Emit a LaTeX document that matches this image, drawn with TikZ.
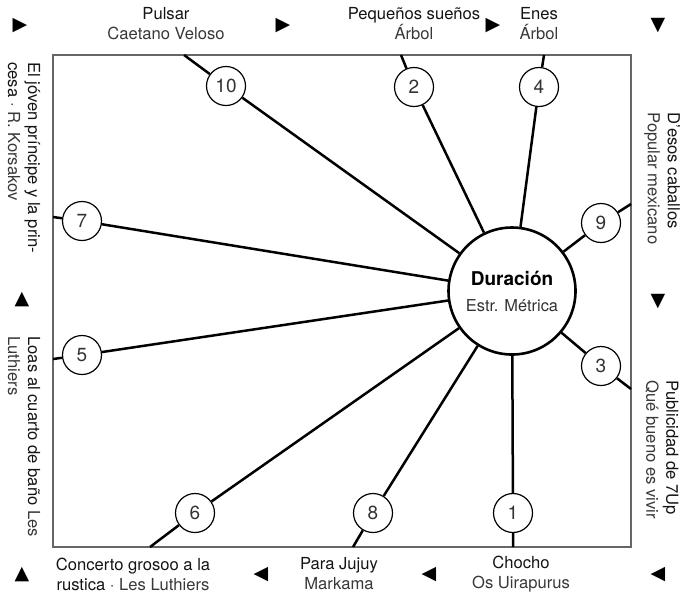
\documentclass[tikz,border=0pt]{standalone}
\usepackage{fontspec}
\setmainfont{TeX Gyre Heros}
\newfontfamily\symfont{DejaVu Sans}
\usetikzlibrary{positioning}
\tikzset{
  track/.style={draw, circle, fill=white, line width=0.6pt, minimum size=19.5pt,
    inner sep=0pt, font=\fontsize{9.5}{10}\selectfont, text=black!80},
  hub/.style={draw, circle, fill=white, line width=1.3pt, minimum size=63.5pt,
    inner sep=0pt, align=center},
  spoke/.style={line width=1.25pt},
  songtxt/.style={align=center, font=\fontsize{8.3}{10}\selectfont, text=black!92},
  sidetxt/.style={songtxt, align=left, rotate=-90, anchor=west, inner sep=0pt},
  arrowmark/.style={font=\symfont\fontsize{9.5}{9.5}\selectfont, inner sep=0pt}
}
\newcommand{\subt}[1]{{\color{black!78}#1}}

\begin{document}
\begin{tikzpicture}[x=0.5pt,y=-0.5pt]
  \useasboundingbox (0,0) rectangle (683,601);

  % marco
  \draw[black!60, line width=0.7pt] (53,55) rectangle (631,547);

  % centro
  \node[hub] (dur) at (512,291) {{\bfseries\fontsize{9.5}{12}\selectfont Duración}\\[1pt]
    {\fontsize{8.2}{10}\selectfont\color{black!80}Estr. Métrica}};

  % temas
  \node[track] (t1) at (513,513) {1};
  \node[track] (t2) at (414,87) {2};
  \node[track] (t3) at (601,366) {3};
  \node[track] (t4) at (539,87) {4};
  \node[track] (t5) at (82,355) {5};
  \node[track] (t6) at (195,513) {6};
  \node[track] (t7) at (82,221) {7};
  \node[track] (t8) at (373,513) {8};
  \node[track] (t9) at (601,223) {9};
  \node[track] (t10) at (226,86) {10};

  % salidas al marco
  \coordinate (e1) at (513,547);
  \coordinate (e2) at (401,55);
  \coordinate (e3) at (631,389);
  \coordinate (e4) at (544,55);
  \coordinate (e5) at (53,359);
  \coordinate (e6) at (150,547);
  \coordinate (e7) at (53,217);
  \coordinate (e8) at (353,547);
  \coordinate (e9) at (631,204);
  \coordinate (e10) at (184,55);

  \foreach \n in {1,...,10}
    \draw[spoke] (dur) -- (t\n) -- (e\n);

  % textos
  \node[songtxt] (pulsar) at (166,24) {Pulsar\\\subt{Caetano Veloso}};
  \node[songtxt] (suenos) at (414,24) {Pequeños sueños\\\subt{Árbol}};
  \node[songtxt] (enes) at (539,24) {Enes\\\subt{Árbol}};
  \node[sidetxt] (caballos) at (662,112) {D'esos caballos\\\subt{Popular mexicano}};
  \node[sidetxt] (sevenup) at (662,380) {Publicidad de 7Up\\\subt{Qué bueno es vivir}};
  \node[songtxt] (chocho) at (521,574) {Chocho\\\subt{Os Uirapurus}};
  \node[songtxt] (jujuy) at (339,574) {Para Jujuy\\\subt{Markama}};
  \node[songtxt] (concerto) at (133,574) {Concerto grosoo a la\\rustica \subt{· Les Luthiers}};
  \node[sidetxt] (loas) at (24,336) {Loas al cuarto de baño \subt{Les}\\\subt{Luthiers}};
  \node[sidetxt] (principe) at (24,62) {El jóven príncipe y la prin-\\cesa \subt{· R. Korsakov}};

  % marcas de sentido
  \node[arrowmark] (m1) at (20,26) {▶};
  \node[arrowmark] (m2) at (283,26) {▶};
  \node[arrowmark] (m3) at (493,26) {▶};
  \node[arrowmark] (m4) at (658,26) {▼};
  \node[arrowmark] (m5) at (658,302) {▼};
  \node[arrowmark] (m6) at (658,575) {◀};
  \node[arrowmark] (m7) at (429,575) {◀};
  \node[arrowmark] (m8) at (261,575) {◀};
  \node[arrowmark] (m9) at (22,575) {▲};
  \node[arrowmark] (m10) at (22,300) {▲};
\end{tikzpicture}
\end{document}
